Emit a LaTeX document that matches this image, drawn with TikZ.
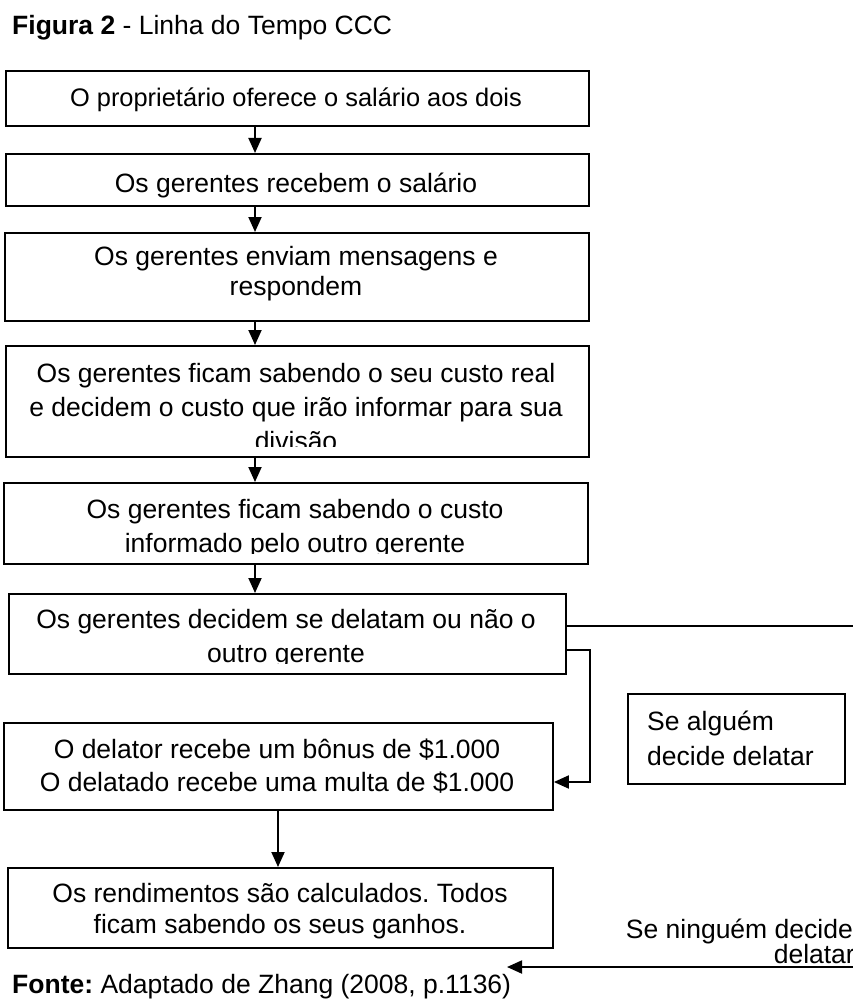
\documentclass[tikz,border=0pt]{standalone}
\usepackage{fontspec}
\setmainfont{Liberation Sans}
\usetikzlibrary{arrows.meta}
\frenchspacing
\tikzset{
  box/.style={draw=black, line width=1.9pt, inner sep=0pt, anchor=north west},
  txt/.style={anchor=base, inner sep=0pt, font=\fontsize{26.5}{34}\selectfont},
  txtsm/.style={anchor=base, inner sep=0pt, font=\fontsize{25.4}{34}\selectfont},
  conn/.style={draw=black, line width=1.9pt},
  arr/.style={conn, -{Triangle[length=15pt,width=13pt]}},
}
\begin{document}
\begin{tikzpicture}[x=1pt,y=-1pt]
\useasboundingbox (0,0) rectangle (853,1003);
\clip (0,0) rectangle (853,1003);
\fill[white] (0,0) rectangle (853,1003);

% title
\node[txt, anchor=base west] (title) at (12,35) {\textbf{Figura 2} - Linha do Tempo CCC};

% boxes
\node[box, minimum width=583pt, minimum height=55pt] (b1) at (5,70) {};
\node[box, minimum width=583pt, minimum height=52pt] (b2) at (5,153) {};
\node[box, minimum width=584pt, minimum height=88pt] (b3) at (4,232) {};
\node[box, minimum width=583pt, minimum height=111pt] (b4) at (5,345) {};
\node[box, minimum width=584pt, minimum height=81pt] (b5) at (3,482) {};
\node[box, minimum width=557pt, minimum height=80pt] (b6) at (8,593) {};
\node[box, minimum width=549pt, minimum height=87pt] (b7) at (3,722) {};
\node[box, minimum width=545pt, minimum height=80pt] (b8) at (7,867) {};
\node[box, minimum width=217pt, minimum height=90pt] (b9) at (627,693) {};

% texts
\node[txtsm] (t1) at (296,107) {O proprietário oferece o salário aos dois};
\node[txt] (t2) at (296,193) {Os gerentes recebem o salário};
\node[txt] (t3a) at (296,265) {Os gerentes enviam mensagens e};
\node[txt] (t3b) at (296,295) {respondem};
\begin{scope}
\clip (0,345) rectangle (853,446);
\node[txt] (t4a) at (296,382) {Os gerentes ficam sabendo o seu custo real};
\node[txt] (t4b) at (296,416) {e decidem o custo que irão informar para sua};
\node[txt] (t4c) at (296,450) {divisão};
\end{scope}
\begin{scope}
\clip (0,482) rectangle (853,553);
\node[txt] (t5a) at (295,518) {Os gerentes ficam sabendo o custo};
\node[txt] (t5b) at (295,552) {informado pelo outro gerente};
\end{scope}
\begin{scope}
\clip (0,593) rectangle (853,663);
\node[txt] (t6a) at (286,628) {Os gerentes decidem se delatam ou não o};
\node[txt] (t6b) at (286,662) {outro gerente};
\end{scope}
\node[txt] (t7a) at (277,758) {O delator recebe um bônus de \$1.000};
\node[txt] (t7b) at (277,791) {O delatado recebe uma multa de \$1.000};
\node[txt] (t8a) at (280,902) {Os rendimentos são calculados. Todos};
\node[txt] (t8b) at (280,933) {ficam sabendo os seus ganhos.};
\node[txt, anchor=base west] (t9a) at (647,730) {Se alguém};
\node[txt, anchor=base west] (t9b) at (647,765) {decide delatar};
\node[txt, anchor=base east] (t10a) at (853,938) {Se ninguém decide};
\node[txt, anchor=base east] (t10b) at (855,963) {delatar};
\node[txt, anchor=base west] (fonte) at (12,993) {\textbf{Fonte:} Adaptado de Zhang (2008, p.1136)};

% vertical arrows
\draw[arr] (255,125) coordinate (a1s) -- (a1s |- b2.north);
\draw[arr] (255,205) coordinate (a2s) -- (a2s |- b3.north);
\draw[arr] (255,320) coordinate (a3s) -- (a3s |- b4.north);
\draw[arr] (255,456) coordinate (a4s) -- (a4s |- b5.north);
\draw[arr] (255,563) coordinate (a5s) -- (a5s |- b6.north);
\draw[arr] (278,809) coordinate (a7s) -- (a7s |- b8.north);

% branch connectors
\coordinate (e1) at (860,626);
\draw[conn] (b6.east |- e1) -- (e1);
\coordinate (k1) at (590,650);
\draw[arr] (b6.east |- k1) -- (k1) -- (590,782) -- (b7.east |- 0,782);
\coordinate (e2) at (860,967);
\coordinate (e3) at (507,967);
\draw[arr] (e2) -- (e3);
\end{tikzpicture}
\end{document}
